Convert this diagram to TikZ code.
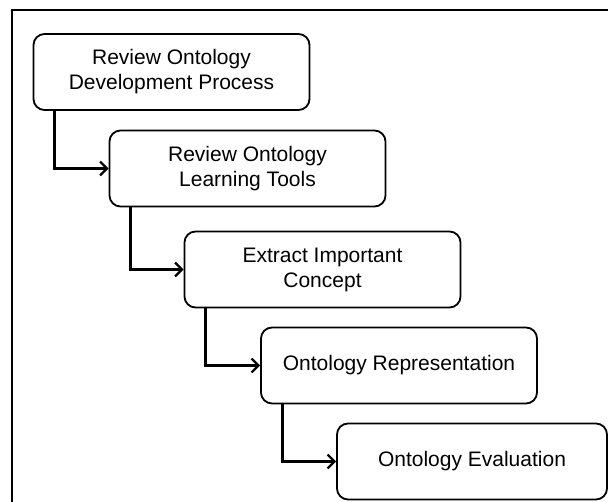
\documentclass[tikz,border=0pt]{standalone}
\usepackage{fontspec}
\setmainfont{Liberation Sans}
\usetikzlibrary{arrows.meta}
\tikzset{
  stagebox/.style={draw,line width=1.8pt,rounded corners=11pt,minimum width=276pt,minimum height=76pt,align=center,inner sep=0pt,font=\fontsize{21}{25}\selectfont},
  flow/.style={line width=2.8pt,-{Straight Barb[length=7pt,width=14pt,line width=2.2pt]}},
}
\begin{document}
\begin{tikzpicture}[x=1pt,y=-1pt]
\path[use as bounding box] (0,0) rectangle (608,502);
\draw[line width=2.4pt] (608,10) -- (12,10) -- (12,502);
\node[stagebox] (review) at (171.5,72) {Review Ontology\\Development Process};
\node[stagebox] (tools) at (247.5,168.5) {Review Ontology\\Learning Tools};
\node[stagebox] (extract) at (322.5,269.5) {Extract Important\\Concept};
\node[stagebox] (repr) at (399,365.5) {Ontology Representation};
\node[stagebox,minimum width=270pt] (eval) at (472,461.5) {Ontology Evaluation};
\draw[flow] ([xshift=22pt]review.south west) |- (tools.west);
\draw[flow] ([xshift=22pt]tools.south west) |- (extract.west);
\draw[flow] ([xshift=22pt]extract.south west) |- (repr.west);
\draw[flow] ([xshift=22pt]repr.south west) |- (eval.west);
\end{tikzpicture}
\end{document}
